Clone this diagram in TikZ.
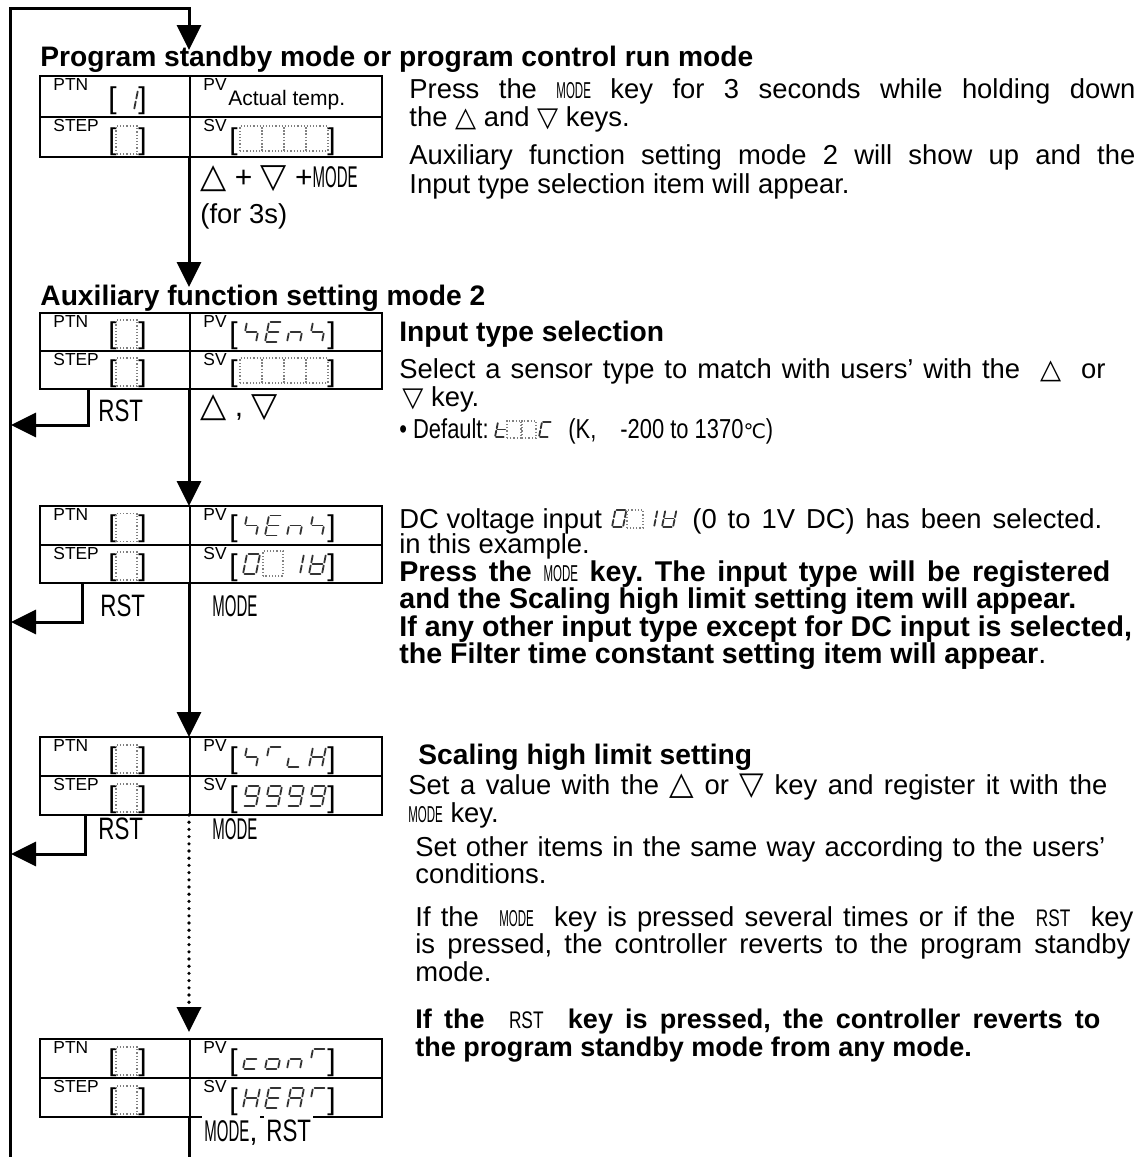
\documentclass[tikz,border=0pt]{standalone}
\usepackage{fontspec}
\setmainfont{Liberation Sans}
\newfontfamily\keyfont[FakeStretch=0.5]{Liberation Sans}
\newfontfamily\rstfont[FakeStretch=0.72]{Liberation Sans}
\newfontfamily\condfont[FakeStretch=0.8]{Liberation Sans}
\newfontfamily\symfont{DejaVu Sans}
\usetikzlibrary{arrows.meta}
\frenchspacing

\newcommand\modekey[1][11.5]{{\keyfont\mdseries\fontsize{#1}{#1}\selectfont MODE}}
\newcommand\rstkey[1][12]{{\rstfont\mdseries\fontsize{#1}{#1}\selectfont RST}}
\newcommand\keyup{{\symfont △}}
\newcommand\keydn{{\symfont ▽}}
\newcommand\fillto[2]{\makebox[#1][s]{#2}}

% one slanted seven-segment digit: {segments}{x}{y}{scale}
\newcommand\segdigit[4]{%
  \begin{scope}[shift={(#2,#3)},scale=#4,xslant=0.2]
    \coordinate (sa1) at (1.5,-20);  \coordinate (sa2) at (11.5,-20);
    \coordinate (sb1) at (13,-18.5); \coordinate (sb2) at (13,-11.5);
    \coordinate (sc1) at (13,-8.5);  \coordinate (sc2) at (13,-1.5);
    \coordinate (sd1) at (1.5,0);    \coordinate (sd2) at (11.5,0);
    \coordinate (se1) at (0,-8.5);   \coordinate (se2) at (0,-1.5);
    \coordinate (sf1) at (0,-18.5);  \coordinate (sf2) at (0,-11.5);
    \coordinate (sg1) at (1.5,-10);  \coordinate (sg2) at (11.5,-10);
    \foreach \sg in {#1} {\draw[seg] (s\sg1) -- (s\sg2);}
  \end{scope}}

% a row of digits: {x}{y}{scale}{digit list}
\newcommand\segword[4]{%
  \foreach \sl [count=\k] in {#4}
    {\expandafter\segdigit\expandafter{\sl}{#1+22*#3*\k-22*#3}{#2}{#3}}}

% unlit digit: {x}{bottom y}{width}{height}
\newcommand\blankdig[4]{\draw[blank] (#1,#2) rectangle ++(#3,-#4);}

% bracket pair: {name}{left x}{right x}{baseline}
\newcommand\brpair[4]{%
  \node[brk] (#1a) at (#2,#4) {[};
  \node[brk] (#1b) at (#3,#4) {]};}

% display panel: {name}{top}{height}
\newcommand\panel[3]{%
  \draw[boxline] (40,#2) rectangle (382,#2+#3);
  \draw[boxline] (40,#2+#3/2) -- (382,#2+#3/2) (190,#2) -- (190,#2+#3);
  \node[tag] (#1ptn) at (53,#2+2) {PTN};
  \node[tag] (#1step) at (53,#2+#3/2+2) {STEP};
  \node[tag] (#1pv) at (203,#2+2) {PV};
  \node[tag] (#1sv) at (203,#2+#3/2+2) {SV};
  \brpair{#1ptnb}{108}{138}{#2+#3/2-8}
  \brpair{#1stepb}{108}{138}{#2+#3-8}
  \brpair{#1svb}{229}{327}{#2+#3-8}
  \blankdig{116}{#2+#3-3}{21}{28}
  \coordinate (#1n) at (189,#2);
  \coordinate (#1s) at (189,#2+#3);}

\begin{document}
\begin{tikzpicture}[x=0.5pt,y=-0.5pt,
  flow/.style={line width=1.5pt},
  arr/.style={-{Triangle[width=12pt,length=12.5pt]}},
  dotflow/.style={line width=1.8pt,line cap=round,dash pattern=on 0pt off 3.6pt},
  boxline/.style={line width=1pt},
  seg/.style={line width=0.9pt,black!80,line cap=round},
  blank/.style={gray,densely dotted,line width=0.6pt},
  tag/.style={anchor=north west,inner sep=0pt,font=\fontsize{8.7}{9}\selectfont},
  brk/.style={anchor=base west,inner sep=0pt,font=\fontsize{15}{15}\selectfont},
  body/.style={anchor=base west,inner sep=0pt,font=\fontsize{13.7}{14}\selectfont},
  bodyb/.style={body,font=\fontsize{14.1}{14}\selectfont\bfseries},
  boldc/.style={body,font=\fontsize{14.3}{14}\selectfont\bfseries},
  cond/.style={body,font=\condfont\fontsize{13.7}{14}\selectfont},
  keylab/.style={anchor=base west,inner sep=0pt,font=\fontsize{15}{15}\selectfont}]

\useasboundingbox (0,0) rectangle (1145,1157);

% titles
\node[bodyb] (ttl1) at (40,66) {Program standby mode or program control run mode};
\node[bodyb] (ttl2) at (40,305) {Auxiliary function setting mode 2};

% panel 1: standby / run
\panel{p1}{76}{81}
\segdigit{b,c}{121}{110}{1}
\node[anchor=base west,inner sep=0pt,font=\fontsize{10.5}{11}\selectfont] (p1act) at (228,105) {Actual temp.};
\foreach \x in {240,262,284,306} {\blankdig{\x}{151}{22}{25}}

% panel 2: input type
\panel{p2}{313}{76}
\blankdig{116}{348}{21}{28}
\brpair{p2pvb}{229}{327}{343}
\segword{243}{342}{1}{{f,g,c},{a,f,g,e,d},{g,e,c},{f,g,c}}
\foreach \x in {240,262,284,306} {\blankdig{\x}{383}{22}{25}}

% panel 3: DC voltage selected
\panel{p3}{506}{77}
\blankdig{116}{541.5}{21}{28}
\brpair{p3pvb}{229}{327}{536.5}
\segword{243}{535.5}{1}{{f,g,c},{a,f,g,e,d},{g,e,c},{f,g,c}}
\segdigit{a,b,c,d,e,f}{243}{574}{1}
\blankdig{263}{576}{20}{25}
\segdigit{b,c}{287}{574}{1}
\segdigit{b,c,d,e,f,g}{309}{574}{1}

% panel 4: scaling high limit
\panel{p4}{737}{78}
\blankdig{116}{773}{21}{28}
\brpair{p4pvb}{229}{327}{768}
\segword{243}{767}{1}{{f,g,c},{a,f},{e,d},{f,b,g,e,c}}
\segword{243}{806}{1}{{a,b,c,d,f,g},{a,b,c,d,f,g},{a,b,c,d,f,g},{a,b,c,d,f,g}}

% panel 5: control output
\panel{p5}{1039}{78}
\blankdig{116}{1075}{21}{28}
\brpair{p5pvb}{229}{327}{1070}
\segword{243}{1069}{1}{{g,e,d},{g,c,d,e},{g,e,c},{a,f}}
\segword{243}{1108}{1}{{b,c,e,f,g},{a,d,e,f,g},{a,b,c,e,f,g},{a,f}}

% flow
\coordinate (loopb) at (10,1157);
\coordinate (loopt) at (10,8);
\coordinate (entry) at (189,50);
\coordinate (ttl2n) at (189,287);
\coordinate (p5a) at (189,1032);
\coordinate (exit) at (189,1157);
\draw[flow,arr] (loopb) -- (loopt) -| (entry);
\draw[flow,arr] (p1s) -- (ttl2n);
\draw[flow,arr] (p2s) -- (p3n);
\draw[flow,arr] (p3s) -- (p4n);
\draw[dotflow,arr] (p4s) -- (p5a);
\draw[flow] (p5s) -- (exit);

% RST returns
\coordinate (p2r) at (88,389);   \coordinate (ret2) at (11,425);
\coordinate (p3r) at (82,583);   \coordinate (ret3) at (11,622);
\coordinate (p4r) at (85,815);   \coordinate (ret4) at (11,854);
\foreach \a/\b in {p2r/ret2,p3r/ret3,p4r/ret4}
  {\draw[flow,arr] (\a) |- (\b);}

% key labels
\node[keylab] (k1) at (200,187) {{\fontsize{17}{17}\selectfont\keyup} + {\fontsize{17}{17}\selectfont\keydn} +\modekey[15]};
\node[body] (k1b) at (200,223) {(for 3s)};
\node[keylab] (r2) at (98,421) {\rstkey[15.5]};
\node[keylab] (k2) at (200,416) {{\fontsize{17}{17}\selectfont\keyup} , {\fontsize{17}{17}\selectfont\keydn}};
\node[keylab] (r3) at (100,616) {\rstkey[15.5]};
\node[keylab] (m3) at (212,616) {\modekey[15]};
\node[keylab] (r4) at (98,839) {\rstkey[15.5]};
\node[keylab] (m4) at (212,839) {\modekey[15]};
\node[keylab,fill=white,inner xsep=1pt,inner ysep=2pt] (m5) at (202,1141) {\modekey[15],};
\node[keylab,fill=white,inner xsep=1pt,inner ysep=2pt] (r5) at (264,1141) {\rstkey[15.5]};

% text beside panel 1
\foreach \y/\t [count=\i] in {
  98/{\fillto{363pt}{Press the \modekey\ key for 3 seconds while holding down}},
  126/{the \keyup\ and \keydn\ keys.},
  164/{\fillto{363pt}{Auxiliary function setting mode 2 will show up and the}},
  193/{Input type selection item will appear.}}
  {\node[body] (a\i) at (409,\y) {\t};}

% text beside panel 2
\node[bodyb] (b1) at (399,341) {Input type selection};
\node[body] (b2) at (399,378) {\fillto{353pt}{Select a sensor type to match with users’ with the \ \keyup\ \ or}};
\node[body] (b3) at (402,406) {\keydn\ key.};
\node[cond] (b4) at (399,438) {• Default:};
\segdigit{d,e,f,g}{495}{437}{0.75}
\blankdig{507}{438}{14}{17}
\blankdig{522}{438}{14}{17}
\segdigit{a,d,e,f}{539}{437}{0.75}
\node[cond] (b5) at (568,438) {(K,\hspace{12pt}-200 to 1370{\symfont\fontsize{10}{10}\selectfont ℃})};

% text beside panel 3
\node[body] (c1) at (399,528) {DC voltage input};
\segdigit{a,b,c,d,e,f}{612}{527}{0.85}
\blankdig{627}{528}{16}{18}
\segdigit{b,c}{643}{527}{0.85}
\segdigit{b,c,d,e,f,g}{662}{527}{0.85}
\node[body] (c2) at (692,528) {\fillto{205pt}{(0 to 1V DC) has been selected.}};
\node[body] (c3) at (399,553) {in this example.};
\node[boldc] (c4) at (399,581) {\fillto{355.5pt}{Press the \modekey\ key. The input type will be registered}};
\node[boldc] (c5) at (399,608) {and the Scaling high limit setting item will appear.};
\node[boldc] (c6) at (399,636) {If any other input type except for DC input is selected,};
\node[boldc] (c7) at (399,663) {the Filter time constant setting item will appear\mdseries.};

% text beside panels 4 and 5
\node[bodyb] (e1) at (418,764) {Scaling high limit setting};
\node[body] (e2) at (408,794) {\fillto{349.5pt}{Set a value with the {\fontsize{16}{16}\selectfont\keyup} or {\fontsize{16}{16}\selectfont\keydn} key and register it with the}};
\node[body] (e3) at (408,822) {\modekey\ key.};
\node[body] (e4) at (415,856) {\fillto{345pt}{Set other items in the same way according to the users’}};
\node[body] (e5) at (415,883) {conditions.};
\node[body] (e6) at (415,926) {\fillto{359pt}{If the \ \modekey\ \ key is pressed several times or if the \ \rstkey\ \ key}};
\node[body] (e7) at (415,953) {\fillto{357.5pt}{is pressed, the controller reverts to the program standby}};
\node[body] (e8) at (415,981) {mode.};
\node[bodyb,font=\fontsize{13.5}{14}\selectfont\bfseries] (e9) at (415,1028) {\fillto{342.5pt}{If the \ \rstkey\ \ key is pressed, the controller reverts to}};
\node[bodyb,font=\fontsize{13.5}{14}\selectfont\bfseries] (e10) at (415,1056) {the program standby mode from any mode.};

\end{tikzpicture}
\end{document}
